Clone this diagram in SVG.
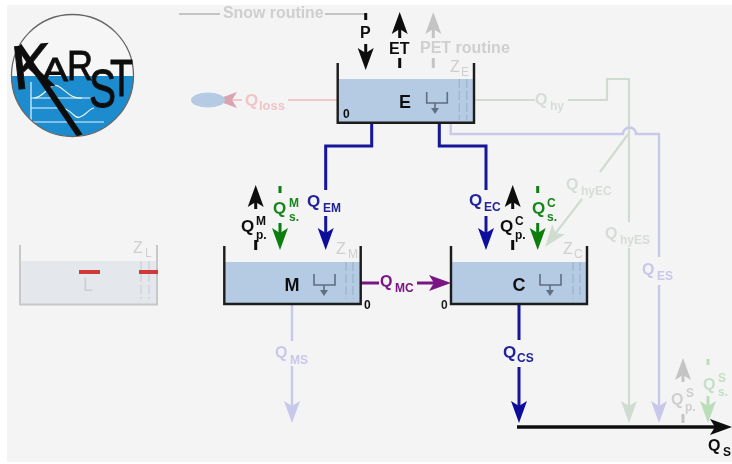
<svg xmlns="http://www.w3.org/2000/svg" width="732" height="464" viewBox="0 0 732 464">
<style>
text{font-family:"Liberation Sans",Arial,sans-serif;font-weight:bold}
.q{font-size:16px}.s{font-size:12px}
.logoT{font-weight:normal;fill:#111;stroke:#111;stroke-width:1}
.wall{fill:none;stroke:#1a1a1a;stroke-width:2.4}
.water{fill:#b5cbe4}
.dash{fill:none;stroke:#9fb6d2;stroke-width:1.4;stroke-dasharray:9 3}
.drain{fill:none;stroke:#5f6f80;stroke-width:1.6}
.blue{stroke:#14149a;stroke-width:3;fill:none}
.tblue{fill:#23239a}
.blk{stroke:#111;stroke-width:3;fill:none}
.tblk{fill:#111}
.grn{stroke:#0d7d10;stroke-width:3;fill:none}
.tgrn{fill:#17851a}
.gry{stroke:#c4c4c4;stroke-width:2;fill:none}
.tgry{fill:#cfcfcf}
.lg{stroke:#cfdccf;stroke-width:2.2;fill:none}
.tlg{fill:#d6ddd6}
.vio{stroke:#c8c8ea;stroke-width:2.4;fill:none}
.tvio{fill:#c8c8ea}
.lgn{stroke:#b9dfb9;stroke-width:3;fill:none}
.tlgn{fill:#c4e0c4}
.pnk{stroke:#f3c6c8;stroke-width:2;fill:none}
.tpnk{fill:#f0c4c8}
.pur{stroke:#7a1584;stroke-width:3;fill:none}
.tpur{fill:#7a1584}
</style>
<defs>
<marker id="hBlue" markerUnits="userSpaceOnUse" markerWidth="24" markerHeight="20" viewBox="0 -10 24 20" refX="6" refY="0" orient="auto"><path d="M0,-8 L22,0 L0,8 L5,0Z" fill="#0c0c9c"/></marker>
<marker id="hBlk" markerUnits="userSpaceOnUse" markerWidth="24" markerHeight="20" viewBox="0 -10 24 20" refX="6" refY="0" orient="auto"><path d="M0,-8 L22,0 L0,8 L5,0Z" fill="#0c0c0c"/></marker>
<marker id="hGrn" markerUnits="userSpaceOnUse" markerWidth="24" markerHeight="20" viewBox="0 -10 24 20" refX="6" refY="0" orient="auto"><path d="M0,-8 L22,0 L0,8 L5,0Z" fill="#0d7d10"/></marker>
<marker id="hGry" markerUnits="userSpaceOnUse" markerWidth="24" markerHeight="20" viewBox="0 -10 24 20" refX="6" refY="0" orient="auto"><path d="M0,-8 L22,0 L0,8 L5,0Z" fill="#c4c4c4"/></marker>
<marker id="hLg" markerUnits="userSpaceOnUse" markerWidth="24" markerHeight="20" viewBox="0 -10 24 20" refX="6" refY="0" orient="auto"><path d="M0,-8 L22,0 L0,8 L5,0Z" fill="#cfdccf"/></marker>
<marker id="hVio" markerUnits="userSpaceOnUse" markerWidth="24" markerHeight="20" viewBox="0 -10 24 20" refX="6" refY="0" orient="auto"><path d="M0,-8 L22,0 L0,8 L5,0Z" fill="#c8c8ea"/></marker>
<marker id="hLgn" markerUnits="userSpaceOnUse" markerWidth="24" markerHeight="20" viewBox="0 -10 24 20" refX="6" refY="0" orient="auto"><path d="M0,-8 L22,0 L0,8 L5,0Z" fill="#b9dfb9"/></marker>
<marker id="hPnk" markerUnits="userSpaceOnUse" markerWidth="24" markerHeight="20" viewBox="0 -10 24 20" refX="6" refY="0" orient="auto"><path d="M0,-8 L22,0 L0,8 L5,0Z" fill="#d9a4b0"/></marker>
<marker id="hPur" markerUnits="userSpaceOnUse" markerWidth="24" markerHeight="20" viewBox="0 -10 24 20" refX="6" refY="0" orient="auto"><path d="M0,-8 L22,0 L0,8 L5,0Z" fill="#7a1584"/></marker>
<clipPath id="cl"><circle cx="72.500" cy="75.500" r="61"/></clipPath>
<filter id="soft" x="0" y="0" width="100%" height="100%"><feGaussianBlur stdDeviation="0.45"/></filter>
</defs>
<rect width="732" height="464" fill="#fff"/>
<rect x="7" y="5" width="725" height="457" fill="#f4f4f4"/>
<g filter="url(#soft)">
<g id="logo">
<g clip-path="url(#cl)">
<rect x="10" y="14" width="126" height="62" fill="#f6f6f6"/>
<rect x="10" y="76" width="126" height="62" fill="#1a8cce"/>
<path d="M31,82V122M31,98H92M31,108H60C72,108 74,120 80,117C86,115 90,108 94,108M31,122H104" fill="none" stroke="#eaf6fb" stroke-width="1.2"/>
<path d="M34,98C44,98 50,82 58,86C66,90 70,99 82,98" fill="none" stroke="#f0f6d8" stroke-width="1.200"/>
<path d="M17,43L80,136" stroke="#111" stroke-width="6" fill="none"/>
</g>
<circle cx="72.500" cy="75.500" r="61" fill="none" stroke="#666" stroke-width="1.300"/>
<text x="12" y="88" class="logoT" font-size="62" transform="rotate(-6 30 70)">K</text>
<text x="42" y="81" class="logoT" font-size="34" textLength="26" lengthAdjust="spacingAndGlyphs">A</text>
<text x="67" y="80" class="logoT" font-size="42" textLength="26" lengthAdjust="spacingAndGlyphs">R</text>
<text x="89" y="107" class="logoT" font-size="54" textLength="27" lengthAdjust="spacingAndGlyphs">S</text>
<text x="110" y="96" class="logoT" font-size="52" textLength="23" lengthAdjust="spacingAndGlyphs">T</text>
</g>
<g id="connectors">
<path class="gry" d="M179,14H220M325,14H366"/>
<path class="blk" d="M365.700,13V20M365.700,44V54" marker-end="url(#hBlk)"/>
<path class="blk" d="M399.700,68V58"/>
<path class="blk" d="M399.700,38V28" marker-end="url(#hBlk)"/>
<path class="gry" style="stroke-width:3" d="M433.300,68V58"/>
<path class="gry" style="stroke-width:3" d="M433.300,38V28" marker-end="url(#hGry)"/>
<path class="pnk" d="M288,100H337"/>
<path class="pnk" d="M242,100H231" marker-end="url(#hPnk)"/>
<path class="blue" d="M371.700,122V146H325.700V190"/>
<path class="blue" d="M325.700,216V234" marker-end="url(#hBlue)"/>
<path class="blue" d="M439.300,122V146H486V190"/>
<path class="blue" d="M486,216V234" marker-end="url(#hBlue)"/>
<path class="lg" d="M474,100H535M568,100H607V79H629V222M629,248V407" marker-end="url(#hLg)"/>
<path class="vio" d="M450.700,123V134H623A6.500,6.500 0 0 1 636,134H659V257M659,285V407" marker-end="url(#hVio)"/>
<path class="lg" d="M629,133L600,172M582,199L555,234" marker-end="url(#hLg)"/>
<path class="blk" d="M255.700,250V240M255.700,209V201" marker-end="url(#hBlk)"/>
<path class="grn" d="M280,186V193M280,223V234" marker-end="url(#hGrn)"/>
<path class="blk" d="M512.700,250V240M512.700,209V201" marker-end="url(#hBlk)"/>
<path class="grn" d="M537.700,186V193M537.700,223V234" marker-end="url(#hGrn)"/>
<path class="pur" d="M361,283H379M417,283H435" marker-end="url(#hPur)"/>
<path class="blue" d="M519,304V340M519,367V407" marker-end="url(#hBlue)"/>
<path class="vio" d="M292,305V341M292,366V407" marker-end="url(#hVio)"/>
<path class="blk" style="stroke-width:3.500" d="M517,427H716" marker-end="url(#hBlk)"/>
<path class="gry" style="stroke-width:3" d="M683,423V414M683,382V374" marker-end="url(#hGry)"/>
<path class="lgn" d="M708,359V365M708,396V407" marker-end="url(#hLgn)"/>
</g>
<g id="snow-routine"><text x="223" y="18" font-size="15.900" class="tgry">Snow routine</text></g>
<g id="pet-routine"><text x="420" y="53" font-size="16" class="tgry">PET routine</text></g>
<text x="360" y="38" class="q tblk">P</text>
<text x="389" y="54" class="q tblk">ET</text>
<g id="qloss"><ellipse cx="208" cy="100" rx="17" ry="7.500" fill="#b5cbe4"/><text x="245" y="106" font-size="17" class="tpnk">Q</text><text x="259" y="110" class="s tpnk" style="font-size:13px">loss</text></g>
<g id="node-E">
<rect class="water" x="338" y="79" width="136" height="43"/>
<path class="dash" d="M459.300,79V120M466.700,79V120"/>
<path class="drain" d="M426.700,92V103H447.300V92M435,103V108"/><path d="M431,108H439L435,114Z" fill="#5f6f80"/>
<path class="wall" d="M337.700,63V122.700H474V63"/>
<text x="405" y="108" text-anchor="middle" font-size="18" fill="#111">E</text>
<text x="343" y="118" font-size="12" fill="#111">0</text>
<text x="450" y="72" class="q tgry" style="font-weight:normal">Z</text><text x="461" y="76" class="s tgry" style="font-weight:normal">E</text>
</g>
<g id="node-M">
<rect class="water" x="225" y="262" width="136" height="42"/>
<path class="dash" d="M346,262V299M353,262V299"/>
<path class="drain" d="M314,274V285H335V274M324,285V290"/><path d="M320,290H328L324,296Z" fill="#5f6f80"/>
<path class="wall" d="M224.300,246V304H360.700V246"/>
<text x="292" y="291" text-anchor="middle" font-size="18" fill="#111">M</text>
<text x="364" y="309" font-size="12" fill="#111">0</text>
<text x="336" y="254" class="q tgry" style="font-weight:normal">Z</text><text x="348" y="258" class="s tgry" style="font-weight:normal">M</text>
</g>
<g id="node-C">
<rect class="water" x="452" y="262" width="135" height="42"/>
<path class="dash" d="M573,262V299M580,262V299"/>
<path class="drain" d="M540,274V285H561V274M550,285V290"/><path d="M546,290H554L550,296Z" fill="#5f6f80"/>
<path class="wall" d="M451,246V304H587V246"/>
<text x="519" y="291" text-anchor="middle" font-size="18" fill="#111">C</text>
<text x="441" y="309" font-size="12" fill="#222">0</text>
<text x="563" y="254" class="q tgry" style="font-weight:normal">Z</text><text x="574" y="258" class="s tgry" style="font-weight:normal">C</text>
</g>
<g id="node-L">
<rect x="21" y="261" width="136" height="43" fill="#e4e7eb"/>
<path d="M141,261V299M149,261V299" fill="none" stroke="#cfd3d8" stroke-width="1.400" stroke-dasharray="9 3"/>
<path d="M20,245V304.500H157V245" fill="none" stroke="#c8c8c8" stroke-width="2"/>
<text x="88" y="291" text-anchor="middle" font-size="18" style="font-weight:normal" class="tgry">L</text>
<text x="133" y="253" class="q tgry" style="font-weight:normal">Z</text><text x="145" y="257" class="s tgry" style="font-weight:normal">L</text>
<path d="M79,272H100M139,272H158" stroke="#d13838" stroke-width="4" fill="none"/>
</g>
<g id="labels">
<text x="307" y="207" font-size="17" class="tblue">Q</text><text x="323" y="212" class="s tblue">EM</text>
<text x="469" y="206" font-size="17" class="tblue">Q</text><text x="484" y="211" class="s tblue">EC</text>
<text x="241" y="232" font-size="17" class="tblk">Q</text><text x="256" y="225" class="s tblk">M</text><text x="256" y="239" class="s tblk">p.</text>
<text x="273" y="214" font-size="17" class="tgrn">Q</text><text x="289" y="207" class="s tgrn">M</text><text x="289" y="221" class="s tgrn">s.</text>
<text x="500" y="232" font-size="17" class="tblk">Q</text><text x="515" y="225" class="s tblk">C</text><text x="515" y="239" class="s tblk">p.</text>
<text x="532" y="214" font-size="17" class="tgrn">Q</text><text x="547" y="207" class="s tgrn">C</text><text x="547" y="221" class="s tgrn">s.</text>
<text x="380" y="287" font-size="16" class="tpur">Q</text><text x="395" y="292" class="s tpur">MC</text>
<text x="503" y="358" font-size="17" class="tblue">Q</text><text x="517" y="362" class="s tblue">CS</text>
<text x="275" y="358" font-size="16" class="tvio">Q</text><text x="290" y="364" class="s tvio">MS</text>
<text x="535" y="105" font-size="16" class="tlg">Q</text><text x="550" y="110" class="s tlg">hy</text>
<text x="566" y="190" font-size="16" class="tlg">Q</text><text x="581" y="195" class="s tlg">hyEC</text>
<text x="605" y="239" font-size="16" class="tlg">Q</text><text x="620" y="244" class="s tlg">hyES</text>
<text x="642" y="275" font-size="16" class="tvio">Q</text><text x="657" y="280" class="s tvio">ES</text>
<text x="671" y="405" font-size="16" class="tgry">Q</text><text x="686" y="397" class="s tgry">S</text><text x="685" y="411" class="s tgry">p.</text>
<text x="703" y="390" font-size="16" class="tlgn">Q</text><text x="718" y="382" class="s tlgn">S</text><text x="718" y="396" class="s tlgn">s.</text>
<text x="708" y="451" font-size="16" class="tblk">Q</text><text x="723" y="456" class="s tblk">S</text>
</g>
</g>
</svg>
